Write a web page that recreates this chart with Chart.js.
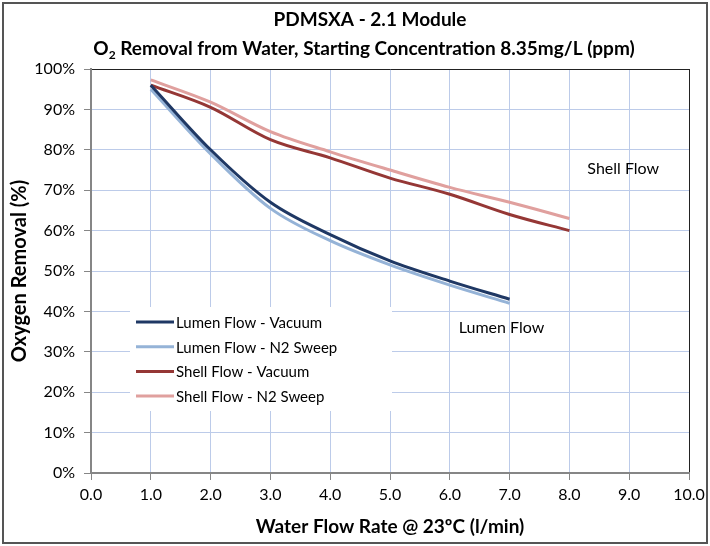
<!DOCTYPE html>
<html>
<head>
<meta charset="utf-8">
<script src="https://cdn.jsdelivr.net/npm/chart.js@4"></script>
<style>
  html, body { margin: 0; padding: 0; background: #fff; }
  #wrap { position: relative; width: 710px; height: 546px; }
</style>
</head>
<body>
<div id="wrap"><canvas id="c" width="710" height="546"></canvas></div>
<script>
// datos
var flowLumen = [1, 2, 3, 4, 5, 6, 7];
var flowShell = [1, 2, 3, 4, 5, 6, 7, 8];
var lumenVacuum = [96, 80, 67, 59, 52.5, 47.5, 43];
var lumenN2 = [95, 79, 65.5, 57.5, 51.5, 46.5, 42];
var shellVacuum = [96, 90.5, 82.5, 78, 73, 69, 64, 60];
var shellN2 = [97.3, 91.8, 84.5, 79.5, 75, 70.7, 67, 63];
var seriesNames = ['Lumen Flow - Vacuum', 'Lumen Flow - N2 Sweep', 'Shell Flow - Vacuum', 'Shell Flow - N2 Sweep'];
var xTicks = [0, 1, 2, 3, 4, 5, 6, 7, 8, 9, 10];
var yTicks = [0, 10, 20, 30, 40, 50, 60, 70, 80, 90, 100];

var FONT = 'Lato, "Open Sans", sans-serif';

function pts(xs, ys) {
  return xs.map(function (x, i) { return { x: x, y: ys[i] }; });
}

// titulos, leyenda y etiquetas de texto
var extras = {
  id: 'extras',
  beforeDraw: function (chart) {
    var ctx = chart.ctx;
    ctx.save();
    ctx.fillStyle = '#fff';
    ctx.fillRect(0, 0, chart.width, chart.height);
    ctx.strokeStyle = '#555';
    ctx.lineWidth = 2;
    ctx.strokeRect(3, 3, chart.width - 6, chart.height - 6);
    ctx.restore();
  },
  afterDatasetsDraw: function (chart) {
    var ctx = chart.ctx;
    var xs = chart.scales.x, ys = chart.scales.y;
    ctx.save();
    // titulo
    ctx.fillStyle = '#000';
    ctx.textBaseline = 'middle';
    ctx.textAlign = 'center';
    ctx.font = 'bold 19px ' + FONT;
    ctx.fillText('PDMSXA - 2.1 Module', 370, 20);
    var rest = ' Removal from Water, Starting Concentration 8.35mg/L (ppm)';
    var wO = ctx.measureText('O').width;
    var wRest = ctx.measureText(rest).width;
    ctx.font = 'bold 12px ' + FONT;
    var w2 = ctx.measureText('2').width;
    var total = wO + w2 + wRest;
    var x0 = 364 - total / 2;
    ctx.textAlign = 'left';
    ctx.font = 'bold 19px ' + FONT;
    ctx.fillText('O', x0, 49);
    ctx.font = 'bold 12px ' + FONT;
    ctx.fillText('2', x0 + wO, 55);
    ctx.font = 'bold 19px ' + FONT;
    ctx.fillText(rest, x0 + wO + w2, 49);

    // etiquetas
    ctx.font = '16px ' + FONT;
    ctx.fillText('Shell Flow', xs.getPixelForValue(8.3), ys.getPixelForValue(75.2));
    ctx.fillText('Lumen Flow', xs.getPixelForValue(6.15), ys.getPixelForValue(35.9));

    // leyenda
    var lx = chart.chartArea.left + 39, ly = 307;
    ctx.fillStyle = '#fff';
    ctx.fillRect(lx, ly, 262, 104);
    chart.data.datasets.forEach(function (ds, i) {
      var y = 322 + i * 24.7;
      ctx.strokeStyle = ds.borderColor;
      ctx.lineWidth = 3;
      ctx.beginPath();
      ctx.moveTo(lx + 6, y);
      ctx.lineTo(lx + 44, y);
      ctx.stroke();
      ctx.fillStyle = '#000';
      ctx.font = '15px ' + FONT;
      ctx.fillText(ds.label, lx + 46, y + 1);
    });
    ctx.restore();
  }
};

new Chart(document.getElementById('c'), {
  type: 'line',
  data: {
    datasets: [
      { label: seriesNames[0], data: pts(flowLumen, lumenVacuum), borderColor: '#1f3864' },
      { label: seriesNames[1], data: pts(flowLumen, lumenN2), borderColor: '#95b3d7' },
      { label: seriesNames[2], data: pts(flowShell, shellVacuum), borderColor: '#953735' },
      { label: seriesNames[3], data: pts(flowShell, shellN2), borderColor: '#e0a09e' }
    ]
  },
  options: {
    responsive: false,
    animation: false,
    layout: { padding: { left: 6, right: 21, top: 69, bottom: 8 } },
    elements: {
      line: { borderWidth: 3, cubicInterpolationMode: 'monotone', fill: false },
      point: { radius: 0 }
    },
    plugins: {
      legend: { display: false },
      tooltip: { enabled: false },
      title: { display: false }
    },
    scales: {
      x: {
        type: 'linear',
        min: 0, max: 10,
        afterBuildTicks: function (s) { s.ticks = xTicks.map(function (v) { return { value: v }; }); },
        afterFit: function (s) { s.height = 65; },
        ticks: {
          color: '#000', padding: 5,
          font: { family: FONT, size: 16 },
          callback: function (v) { return v.toFixed(1); }
        },
        grid: {
          color: function (c) { return c.tick && c.tick.value === 10 ? '#222' : '#bccbe9'; },
          tickColor: '#868686', tickLength: 7, lineWidth: 1
        },
        border: { color: '#868686', width: 2 },
        title: {
          display: true, text: 'Water Flow Rate @ 23ºC (l/min)', color: '#000',
          font: { family: FONT, size: 19, weight: 'bold' }, padding: { top: 0, bottom: 0 }
        }
      },
      y: {
        min: 0, max: 100,
        afterBuildTicks: function (s) { s.ticks = yTicks.map(function (v) { return { value: v }; }); },
        afterFit: function (s) { s.width = 85; },
        ticks: {
          color: '#000', padding: 9,
          font: { family: FONT, size: 16 },
          callback: function (v) { return v + '%'; }
        },
        grid: {
          color: function (c) { return c.tick && c.tick.value === 100 ? '#222' : '#bccbe9'; },
          tickColor: '#868686', tickLength: 7, lineWidth: 1
        },
        border: { color: '#868686', width: 2 },
        title: {
          display: true, text: 'Oxygen Removal (%)', color: '#000',
          font: { family: FONT, size: 20, weight: 'bold' }, padding: { top: 2, bottom: 0 }
        }
      }
    }
  },
  plugins: [extras]
});
</script>
</body>
</html>
